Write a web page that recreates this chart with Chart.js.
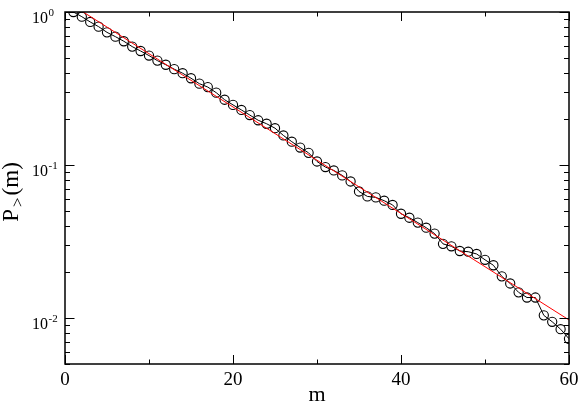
<!DOCTYPE html>
<html>
<head>
<meta charset="utf-8">
<script src="https://cdn.jsdelivr.net/npm/chart.js@4.4.0/dist/chart.umd.min.js"></script>
<style>
  html, body { margin: 0; padding: 0; background: #fff; }
  canvas { display: block; }
</style>
</head>
<body>
<canvas id="myChart" width="581" height="403"></canvas>
<script>
// values
const mValues = [1, 2, 3, 4, 5, 6, 7, 8, 9, 10,
  11, 12, 13, 14, 15, 16, 17, 18, 19, 20,
  21, 22, 23, 24, 25, 26, 27, 28, 29, 30,
  31, 32, 33, 34, 35, 36, 37, 38, 39, 40,
  41, 42, 43, 44, 45, 46, 47, 48, 49, 50,
  51, 52, 53, 54, 55, 56, 57, 58, 59, 60];
const pValues = [1.0, 0.932, 0.861, 0.802, 0.736, 0.690, 0.644, 0.594, 0.556, 0.519,
  0.481, 0.452, 0.423, 0.398, 0.369, 0.340, 0.323, 0.297, 0.267, 0.247,
  0.229, 0.212, 0.196, 0.186, 0.174, 0.156, 0.142, 0.130, 0.120, 0.1054,
  0.0969, 0.0921, 0.0855, 0.0780, 0.0671, 0.0623, 0.0614, 0.0584, 0.0548, 0.0480,
  0.0452, 0.0420, 0.0389, 0.0356, 0.0305, 0.0294, 0.0274, 0.0271, 0.0262, 0.0240,
  0.0221, 0.0187, 0.0168, 0.0147, 0.0136, 0.0136, 0.0104, 0.00944, 0.00844, 0.00731];

// red exponential fit (end points)
const fitM = [0, 60];
const fitP = [1.19, 0.0097];

const xTicks = [0, 10, 20, 30, 40, 50, 60];
const xTickLabels = ["0", "", "20", "", "40", "", "60"];
const yDecades = [0, -1, -2];
const yExpLabels = ["0", "-1", "-2"];

const SERIF = "'Liberation Serif', 'Times New Roman', serif";

// frame, inward ticks and all axis text (xmgrace style)
const axesPlugin = {
  id: "axesPlugin",
  afterDraw(chart) {
    const ctx = chart.ctx;
    const a = chart.chartArea;
    const xs = chart.scales.x;
    const ys = chart.scales.y;
    ctx.save();
    ctx.strokeStyle = "#000";
    ctx.fillStyle = "#000";
    ctx.lineWidth = 1.5;
    ctx.strokeRect(a.left, a.top, a.right - a.left, a.bottom - a.top);

    ctx.lineWidth = 1;
    ctx.beginPath();
    xTicks.forEach((v, i) => {
      const px = Math.round(xs.getPixelForValue(v)) + 0.5;
      const len = xTickLabels[i] ? 9 : 4.5;
      ctx.moveTo(px, a.bottom); ctx.lineTo(px, a.bottom - len);
      ctx.moveTo(px, a.top); ctx.lineTo(px, a.top + len);
    });
    for (let d = -3; d <= 0; d++) {
      for (let k = 1; k <= 9; k++) {
        const v = k * Math.pow(10, d);
        if (v < ys.min || v > ys.max) continue;
        const py = Math.round(ys.getPixelForValue(v)) + 0.5;
        const len = k === 1 ? 9.5 : 5;
        ctx.moveTo(a.left, py); ctx.lineTo(a.left + len, py);
        ctx.moveTo(a.right, py); ctx.lineTo(a.right - len, py);
      }
    }
    ctx.stroke();

    // x tick labels
    ctx.font = "19px " + SERIF;
    ctx.textAlign = "center";
    ctx.textBaseline = "alphabetic";
    xTicks.forEach((v, i) => {
      if (!xTickLabels[i]) return;
      ctx.fillText(xTickLabels[i], xs.getPixelForValue(v), 385);
    });

    // y tick labels 10^n
    yDecades.forEach((d, i) => {
      const py = ys.getPixelForValue(Math.pow(10, d));
      ctx.font = "16px " + SERIF;
      ctx.textAlign = "right";
      ctx.fillText("10", 48, py + 11);
      ctx.font = "11px " + SERIF;
      ctx.textAlign = "left";
      ctx.fillText(yExpLabels[i], 48.5, py + 4);
    });

    // x title
    ctx.font = "22px " + SERIF;
    ctx.textAlign = "center";
    ctx.fillText("m", (a.left + a.right) / 2, 401);

    // y title P>(m), rotated
    ctx.translate(18, (a.top + a.bottom) / 2 + 4);
    ctx.rotate(-Math.PI / 2);
    const big = "23px " + SERIF, small = "17px " + SERIF;
    ctx.font = big; const wP = ctx.measureText("P").width; const wM = ctx.measureText("(m)").width;
    ctx.font = small; const wS = ctx.measureText(">").width;
    let x0 = -(wP + wS + wM + 4) / 2;
    ctx.textAlign = "left";
    ctx.font = big; ctx.fillText("P", x0, 0); x0 += wP + 2;
    ctx.font = small; ctx.fillText(">", x0, 5); x0 += wS + 2;
    ctx.font = big; ctx.fillText("(m)", x0, 0);
    ctx.restore();
  }
};

const ctx = document.getElementById("myChart").getContext("2d");
new Chart(ctx, {
  type: "line",
  data: {
    datasets: [
      {
        label: "fit",
        data: fitM.map((m, i) => ({ x: m, y: fitP[i] })),
        borderColor: "#ff0000",
        borderWidth: 1,
        pointRadius: 0,
        clip: 0,
        order: 0
      },
      {
        label: "P>(m)",
        data: mValues.map((m, i) => ({ x: m, y: pValues[i] })),
        borderColor: "#000",
        borderWidth: 1,
        pointRadius: 4.6,
        pointBackgroundColor: "rgba(0,0,0,0)",
        pointBorderColor: "#000",
        pointBorderWidth: 1.1,
        order: 1
      }
    ]
  },
  options: {
    responsive: false,
    animation: false,
    layout: { padding: { left: 65, right: 12, top: 12, bottom: 39 } },
    plugins: { legend: { display: false }, tooltip: { enabled: false } },
    scales: {
      x: { type: "linear", min: 0, max: 60, display: false },
      y: { type: "logarithmic", min: 0.005, max: 1, display: false }
    }
  },
  plugins: [axesPlugin]
});
</script>
</body>
</html>
